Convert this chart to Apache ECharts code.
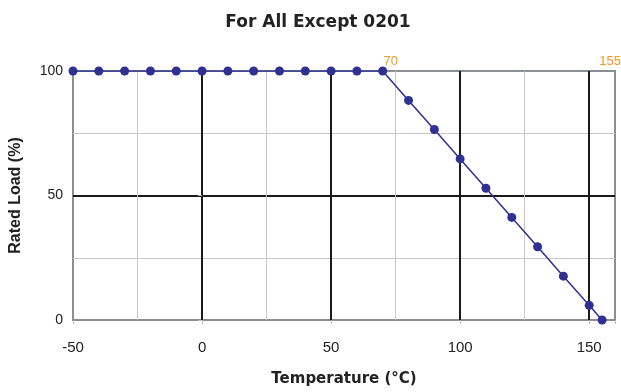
<!DOCTYPE html>
<html>
<head>
<meta charset="utf-8">
<script src="https://cdn.jsdelivr.net/npm/echarts@6/dist/echarts.min.js"></script>
<style>
    html, body {margin: 0; padding: 0; background: #fff;}
    #chart {width: 621px; height: 392px;}
</style>
</head>
<body>
<div id="chart"></div>
<script>
// temperature (°C) and rated load (%)
var temps = [-50, -40, -30, -20, -10, 0, 10, 20, 30, 40, 50, 60, 70, 80, 90, 100, 110, 120, 130, 140, 150, 155];
var loads = [100, 100, 100, 100, 100, 100, 100, 100, 100, 100, 100, 100, 100, 88.2, 76.5, 64.7, 52.9, 41.2, 29.4, 17.6, 5.9, 0];
// orange notes along the top edge
var noteTemps = [70, 155];
var noteLoads = [100, 100];
var xTickLabels = [-50, 0, 50, 100, 150];
var yTickLabels = [0, 50, 100];

var chart = echarts.init(document.getElementById('chart'));

var lineData = temps.map(function (t, i) {
    return [t, loads[i]];
});
var noteData = noteTemps.map(function (t, i) {
    return [t, noteLoads[i]];
});

var option = {
    animation: false,
    title: {
        text: 'For All Except 0201',
        left: 313,
        textAlign: 'center',
        top: 9,
        textStyle: {
            fontFamily: 'DejaVu Sans',
            fontSize: 17,
            fontWeight: 'bold',
            color: '#222'
        }
    },
    grid: {
        left: 72,
        top: 71,
        right: 6,
        bottom: 68,
        show: true,
        borderColor: '#8b8f94',
        borderWidth: 2
    },
    xAxis: [
        {
            type: 'value',
            min: -50,
            max: 160,
            interval: 25,
            name: 'Temperature (°C)',
            nameLocation: 'middle',
            nameGap: 52,
            nameTextStyle: {
                fontFamily: 'DejaVu Sans',
                fontSize: 15,
                fontWeight: 'bold',
                color: '#222'
            },
            axisLine: {show: false},
            axisTick: {show: false},
            axisLabel: {
                margin: 20,
                fontFamily: 'Liberation Sans, Arial',
                fontSize: 15,
                color: '#222',
                showMaxLabel: false,
                formatter: function (v) {
                    return xTickLabels.indexOf(v) >= 0 ? String(v) : '';
                }
            },
            splitLine: {
                show: true,
                showMinLine: false,
                showMaxLine: false,
                lineStyle: {color: '#c8c8c8', width: 1}
            }
        },
        {
            type: 'value',
            position: 'bottom',
            min: -50,
            max: 160,
            interval: 50,
            axisLine: {show: false},
            axisLabel: {show: false},
            axisTick: {show: true, length: 4, lineStyle: {color: '#bbb'}},
            splitLine: {
                show: true,
                showMinLine: false,
                showMaxLine: false,
                lineStyle: {color: '#1a1a1a', width: 2}
            }
        }
    ],
    yAxis: [
        {
            type: 'value',
            min: 0,
            max: 100,
            interval: 25,
            name: 'Rated Load (%)',
            nameLocation: 'middle',
            nameGap: 49,
            nameTextStyle: {
                fontFamily: 'Liberation Sans, Arial',
                fontSize: 16,
                fontWeight: 'bold',
                color: '#222'
            },
            axisLine: {show: false},
            axisTick: {show: false},
            axisLabel: {
                margin: 10,
                fontFamily: 'Liberation Sans, Arial',
                fontSize: 14,
                color: '#222',
                formatter: function (v) {
                    return yTickLabels.indexOf(v) >= 0 ? String(v) : '';
                }
            },
            splitLine: {
                show: true,
                showMinLine: false,
                showMaxLine: false,
                lineStyle: {color: '#c8c8c8', width: 1}
            }
        },
        {
            type: 'value',
            position: 'left',
            min: 0,
            max: 100,
            interval: 50,
            axisLine: {show: false},
            axisLabel: {show: false},
            axisTick: {show: true, length: 4, lineStyle: {color: '#bbb'}},
            splitLine: {
                show: true,
                showMinLine: false,
                showMaxLine: false,
                lineStyle: {color: '#1a1a1a', width: 2}
            }
        }
    ],
    series: [
        {
            type: 'line',
            data: lineData,
            symbol: 'circle',
            symbolSize: 9,
            lineStyle: {color: '#2e3192', width: 1.5},
            itemStyle: {color: '#2e3192'},
            z: 3
        },
        {
            type: 'scatter',
            data: noteData,
            symbolSize: 9,
            itemStyle: {color: 'rgba(0,0,0,0)'},
            silent: true,
            z: 4,
            label: {
                show: true,
                opacity: 1,
                position: 'top',
                offset: [8, 6],
                formatter: function (p) {
                    return String(p.value[0]);
                },
                color: '#f5981f',
                fontSize: 13,
                fontFamily: 'Liberation Sans Narrow, Liberation Sans, Arial'
            }
        }
    ]
};

chart.setOption(option);
</script>
</body>
</html>
